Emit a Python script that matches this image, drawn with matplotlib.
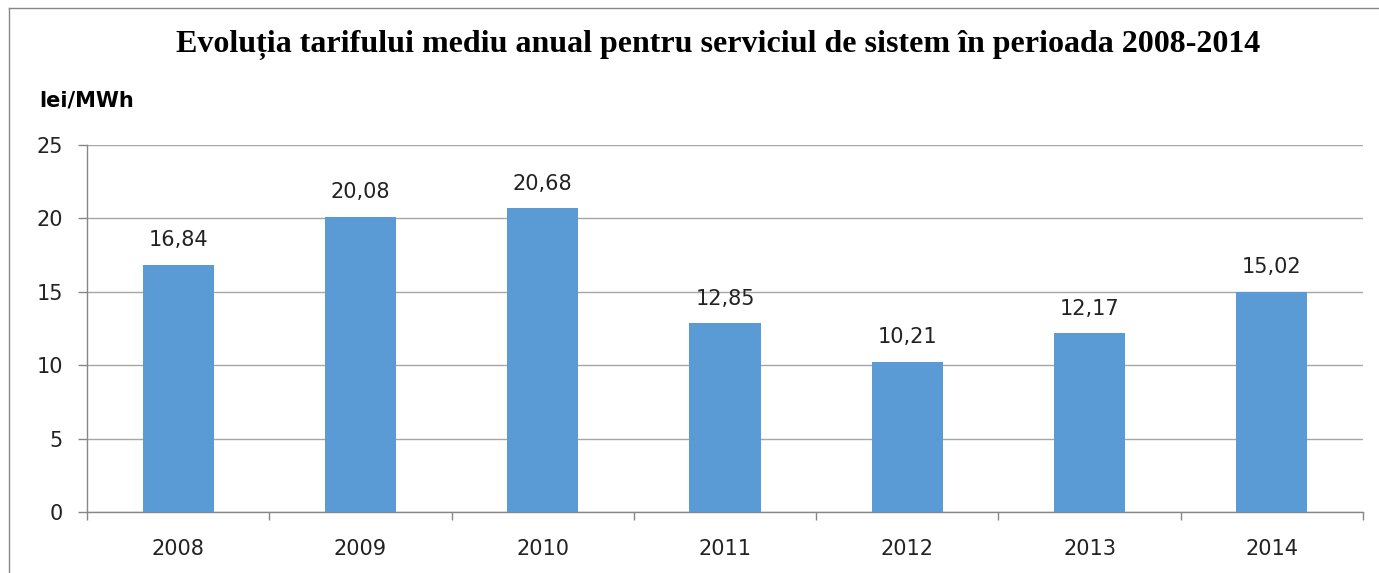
import matplotlib.pyplot as plt
from matplotlib.lines import Line2D

# Data
years = ["2008", "2009", "2010", "2011", "2012", "2013", "2014"]
tariffs = [16.84, 20.08, 20.68, 12.85, 10.21, 12.17, 15.02]
y_ticks = [0, 5, 10, 15, 20, 25]

bar_color = "#5B9BD5"
axis_color = "#878787"
grid_color = "#A6A6A6"

fig = plt.figure(figsize=(13.79, 5.73), dpi=100)
ax = fig.add_axes([87 / 1379, 1 - 512 / 573, (1363 - 87) / 1379, (512 - 145) / 573])

positions = list(range(len(years)))
ax.bar(positions, tariffs, width=0.39, color=bar_color, zorder=3)

# Value labels with comma decimals
for x, v in zip(positions, tariffs):
    ax.annotate(f"{v:.2f}".replace(".", ","), (x, v), xytext=(0, 13.5),
                textcoords="offset points", ha="center", va="baseline",
                fontsize=15, color="#222222")

ax.set_xlim(-0.5, len(years) - 0.5)
ax.set_ylim(0, 25)
ax.set_yticks(y_ticks)
ax.set_yticklabels([str(t) for t in y_ticks])
ax.set_xticks(positions)
ax.set_xticklabels(years)
ax.set_xticks([p - 0.5 for p in positions] + [len(years) - 0.5], minor=True)

ax.tick_params(axis="x", which="major", length=0, pad=19.5, labelsize=15, labelcolor="#222222")
ax.tick_params(axis="x", which="minor", length=6, width=1, color=axis_color)
ax.tick_params(axis="y", length=6.5, width=1, color=axis_color, pad=11, labelsize=15, labelcolor="#222222")

ax.yaxis.grid(True, color=grid_color, linewidth=1)
ax.set_axisbelow(True)
for side in ["top", "right"]:
    ax.spines[side].set_visible(False)
for side in ["left", "bottom"]:
    ax.spines[side].set_color(axis_color)
    ax.spines[side].set_linewidth(1)

# Titles
fig.text(718 / 1379, 1 - 45 / 573,
         "Evoluția tarifului mediu anual pentru serviciul de sistem în perioada 2008-2014",
         ha="center", va="center", fontsize=23, fontweight="bold",
         family="Liberation Serif")
fig.text(39 / 1379, 1 - 101 / 573, "lei/MWh", ha="left", va="center",
         fontsize=15, fontweight="bold", family="DejaVu Sans")

# Chart frame (top and left edges)
fig.add_artist(Line2D([9 / 1379, 1], [1 - 8 / 573, 1 - 8 / 573],
                      transform=fig.transFigure, color=axis_color, linewidth=1))
fig.add_artist(Line2D([9 / 1379, 9 / 1379], [0, 1 - 8 / 573],
                      transform=fig.transFigure, color=axis_color, linewidth=1))

fig.savefig("out.png", dpi=100)
